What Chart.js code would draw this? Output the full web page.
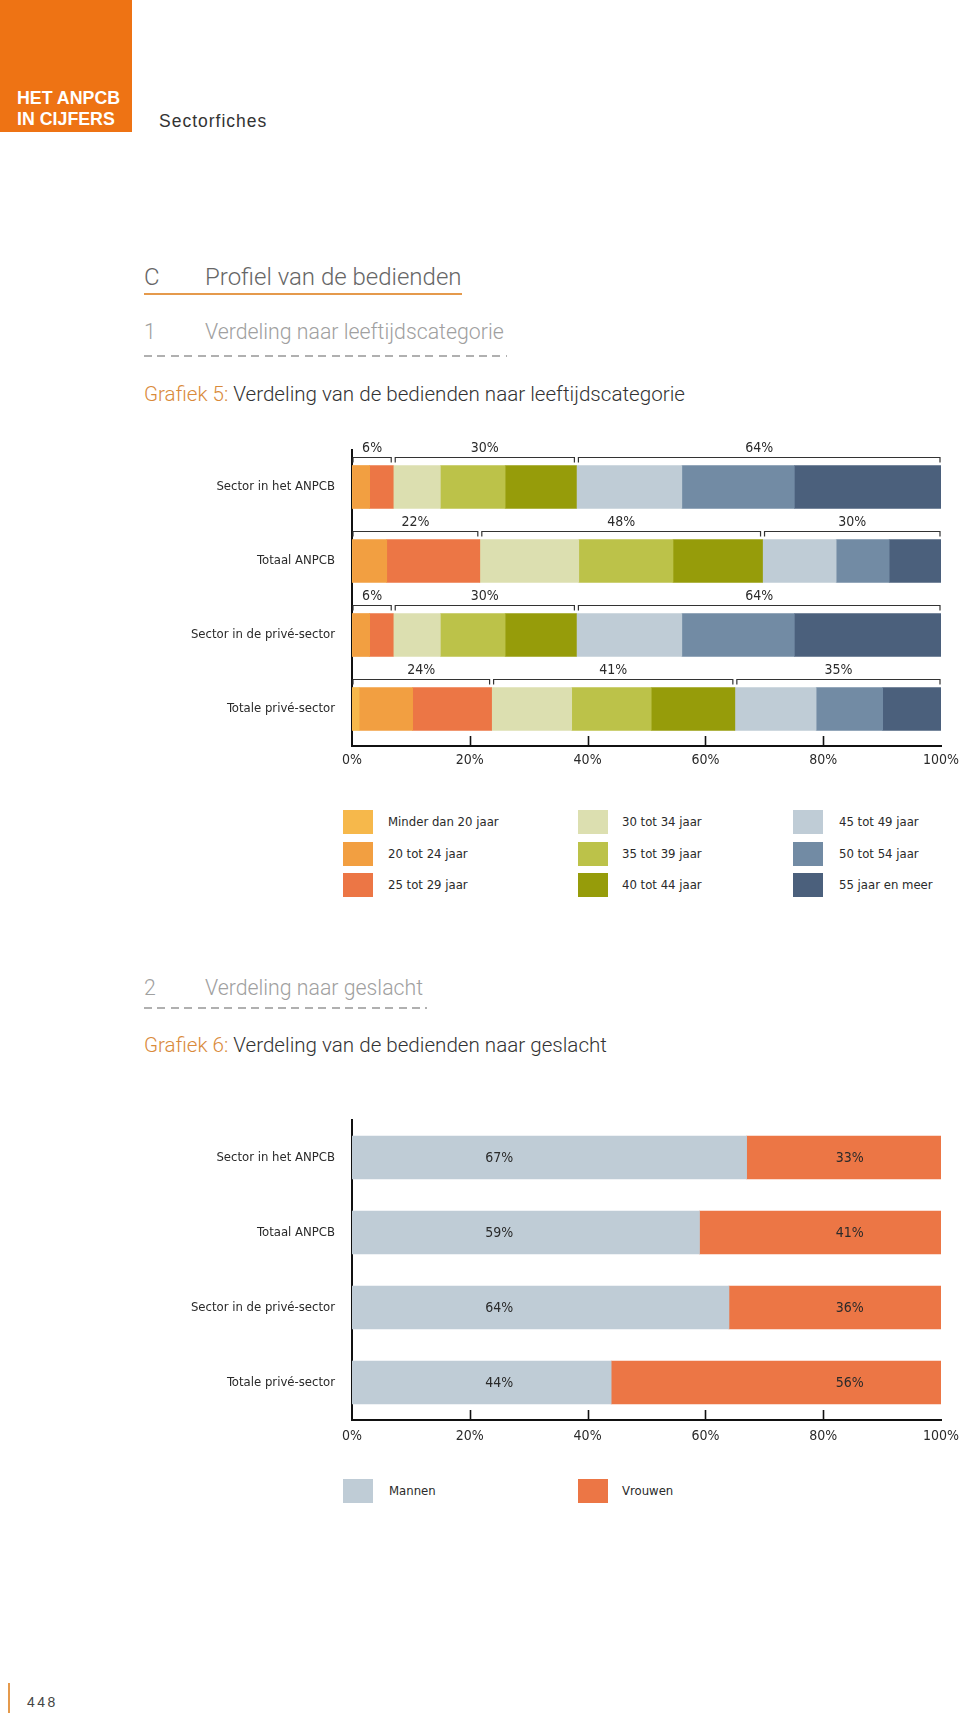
<!DOCTYPE html>
<html>
<head>
<meta charset="utf-8">
<script src="https://cdn.jsdelivr.net/npm/chart.js@4.4.1/dist/chart.umd.min.js"></script>
<style>
  html, body { margin: 0; padding: 0; background: #fff; }
  body { position: relative; width: 960px; height: 1720px; overflow: hidden; font-family: 'Liberation Sans', Arial, sans-serif; }
  .abs { position: absolute; white-space: nowrap; }
  .light { font-family: Roboto, 'Open Sans', 'Liberation Sans', sans-serif; font-weight: 300; }
  .narrow { font-family: 'DejaVu Sans Condensed', 'Liberation Sans Narrow', sans-serif; }
  .sw { position: absolute; width: 30px; height: 24px; }
  .lt { position: absolute; font-size: 13px; color: #2a2a2a; line-height: 16px; }
  .dash { position: absolute; height: 1.5px; background: repeating-linear-gradient(to right, #b0b0b0 0, #b0b0b0 8px, transparent 8px, transparent 13.4px); }
</style>
</head>
<body>
<div class="abs" style="left:0;top:0;width:132px;height:132px;background:#ee7314;"></div>
<div class="abs" style="left:17px;top:88px;color:#fff;font-weight:bold;font-size:17.8px;line-height:21px;">HET ANPCB<br>IN CIJFERS</div>
<div class="abs" style="left:159px;top:111px;color:#333;font-size:17.5px;letter-spacing:1px;">Sectorfiches</div>

<div class="abs light" style="left:144px;top:263px;color:#666;font-size:24px;">C</div>
<div class="abs light" style="left:205px;top:263px;color:#666;font-size:24px;">Profiel van de bedienden</div>
<div class="abs" style="left:144px;top:293px;width:318px;height:2px;background:#e59a4c;"></div>

<div class="abs light" style="left:144px;top:319px;color:#a0a0a0;font-size:21.3px;">1</div>
<div class="abs light" style="left:205px;top:319px;color:#a0a0a0;font-size:21.3px;">Verdeling naar leeftijdscategorie</div>
<div class="dash" style="left:144px;top:355px;width:363px;"></div>

<div class="abs light" style="left:144px;top:382px;font-size:20.6px;color:#333;"><span style="color:#d98a3a;">Grafiek 5:</span> Verdeling van de bedienden naar leeftijdscategorie</div>

<div class="abs" style="left:0;top:400px;width:960px;height:376px;"><canvas id="c1"></canvas></div>

<div id="leg1"></div>

<div class="abs light" style="left:144px;top:975px;color:#a0a0a0;font-size:21.3px;">2</div>
<div class="abs light" style="left:205px;top:975px;color:#a0a0a0;font-size:21.3px;">Verdeling naar geslacht</div>
<div class="dash" style="left:144px;top:1007px;width:283px;"></div>

<div class="abs light" style="left:144px;top:1033px;font-size:20.6px;color:#333;"><span style="color:#d98a3a;">Grafiek 6:</span> Verdeling van de bedienden naar geslacht</div>

<div class="abs" style="left:0;top:1090px;width:960px;height:360px;"><canvas id="c2"></canvas></div>

<div id="leg2"></div>

<div class="abs" style="left:8px;top:1683px;width:2px;height:30px;background:#e59a4c;"></div>
<div class="abs" style="left:27px;top:1694px;font-size:14px;letter-spacing:2.5px;color:#444;">448</div>

<script>
// ---------- DATA ----------
const categories = ["Sector in het ANPCB", "Totaal ANPCB", "Sector in de privé-sector", "Totale privé-sector"];
const ageLabels = ["Minder dan 20 jaar", "20 tot 24 jaar", "25 tot 29 jaar", "30 tot 34 jaar", "35 tot 39 jaar", "40 tot 44 jaar", "45 tot 49 jaar", "50 tot 54 jaar", "55 jaar en meer"];
const ageColors = ["#f6b84b", "#f29f41", "#ec7645", "#dcdfb0", "#bcc249", "#969c0a", "#bfccd6", "#728ba4", "#4b607c"];
const ageUnder20 = [0, 0, 0, 1.2];
const age20_24 = [3.0, 5.9, 3.0, 9.1];
const age25_29 = [4.0, 15.8, 4.0, 13.4];
const age30_34 = [8.0, 16.8, 8.0, 13.6];
const age35_39 = [11.0, 16.0, 11.0, 13.5];
const age40_44 = [12.1, 15.2, 12.1, 14.2];
const age45_49 = [17.9, 12.5, 17.9, 13.8];
const age50_54 = [19.1, 9.0, 19.1, 11.3];
const age55plus = [24.9, 8.8, 24.9, 9.9];
const groupLabels = [["6%", "30%", "64%"], ["22%", "48%", "30%"], ["6%", "30%", "64%"], ["24%", "41%", "35%"]];
const groupRanges = [[0, 3], [3, 6], [6, 9]];
const genderLabels = ["Mannen", "Vrouwen"];
const genderColors = ["#bfccd6", "#ec7645"];
const mannen = [67, 59, 64, 44];
const vrouwen = [33, 41, 36, 56];
const tickLabels = ["0%", "20%", "40%", "60%", "80%", "100%"];
const tickValues = [0, 20, 40, 60, 80, 100];

// ---------- STYLE ----------
const NARROW = "'DejaVu Sans Condensed', 'Liberation Sans Narrow', sans-serif";
const TEXT = "#2a2a2a";
const BAR_T = 43;

const ageSeries = [ageUnder20, age20_24, age25_29, age30_34, age35_39, age40_44, age45_49, age50_54, age55plus];

function xScaleOpts(tickPad) {
  return {
    type: 'linear', stacked: true, min: 0, max: 100,
    afterBuildTicks: (s) => { s.ticks = tickValues.map(v => ({ value: v })); },
    ticks: {
      callback: (v) => tickLabels[tickValues.indexOf(v)],
      font: { family: NARROW, size: 14 }, color: TEXT, padding: tickPad, maxRotation: 0, autoSkip: false
    },
    grid: { display: false, drawTicks: false },
    border: { display: true, color: '#111', width: 2 },
    afterFit: (s) => { s.height = 30; s.paddingLeft = 0; s.paddingRight = 0; }
  };
}
function yScaleOpts() {
  return {
    type: 'category', stacked: true,
    ticks: { font: { family: NARROW, size: 13 }, color: TEXT, padding: 17 },
    grid: { display: false, drawTicks: false },
    border: { display: true, color: '#111', width: 2 },
    afterFit: (s) => { s.width = 352; s.paddingTop = 0; s.paddingBottom = 0; }
  };
}

const innerTicks = {
  id: 'innerTicks',
  afterDraw(chart) {
    const { ctx, chartArea } = chart;
    const xs = chart.scales.x;
    ctx.save();
    ctx.strokeStyle = '#111';
    ctx.lineWidth = 1.6;
    [20, 40, 60, 80].forEach(v => {
      const x = Math.round(xs.getPixelForValue(v)) + 0.5;
      ctx.beginPath();
      ctx.moveTo(x, chartArea.bottom);
      ctx.lineTo(x, chartArea.bottom - 10);
      ctx.stroke();
    });
    ctx.restore();
  }
};

const brackets = {
  id: 'brackets',
  afterDatasetsDraw(chart) {
    const { ctx } = chart;
    const xs = chart.scales.x, ys = chart.scales.y;
    ctx.save();
    ctx.strokeStyle = '#333';
    ctx.lineWidth = 1.2;
    ctx.fillStyle = TEXT;
    ctx.font = "14px " + NARROW;
    ctx.textAlign = 'center';
    ctx.textBaseline = 'middle';
    categories.forEach((cat, i) => {
      const top = ys.getPixelForValue(i) - BAR_T / 2;
      const ly = Math.round(top - 9) + 0.5;
      groupRanges.forEach((r, g) => {
        let s0 = 0;
        for (let k = 0; k < r[0]; k++) s0 += ageSeries[k][i];
        let s1 = s0;
        for (let k = r[0]; k < r[1]; k++) s1 += ageSeries[k][i];
        const x0 = xs.getPixelForValue(s0) + (g === 0 ? 1 : 2);
        const x1 = xs.getPixelForValue(s1) - (g === groupRanges.length - 1 ? 1 : 2);
        ctx.beginPath();
        ctx.moveTo(x0, ly + 5);
        ctx.lineTo(x0, ly);
        ctx.lineTo(x1, ly);
        ctx.lineTo(x1, ly + 5);
        ctx.stroke();
        ctx.fillText(groupLabels[i][g], (x0 + x1) / 2, top - 17);
      });
    });
    ctx.restore();
  }
};

new Chart(document.getElementById('c1'), {
  type: 'bar',
  data: {
    labels: categories,
    datasets: ageSeries.map((d, k) => ({
      label: ageLabels[k], data: d, backgroundColor: ageColors[k],
      borderWidth: 0, barThickness: BAR_T
    }))
  },
  options: {
    indexAxis: 'y', responsive: true, maintainAspectRatio: false, animation: false,
    layout: { padding: { top: 50, right: 19, bottom: 0, left: 0 } },
    plugins: { legend: { display: false }, tooltip: { enabled: false } },
    scales: { x: xScaleOpts(6), y: yScaleOpts() }
  },
  plugins: [brackets, innerTicks]
});

const genderSeries = [mannen, vrouwen];
const LABEL_POS = [25, 84.5];
const barLabels = {
  id: 'barLabels',
  afterDatasetsDraw(chart) {
    const { ctx } = chart;
    const xs = chart.scales.x, ys = chart.scales.y;
    ctx.save();
    ctx.fillStyle = TEXT;
    ctx.font = "14px " + NARROW;
    ctx.textAlign = 'center';
    ctx.textBaseline = 'middle';
    categories.forEach((c, i) => {
      genderSeries.forEach((s, k) => {
        ctx.fillText(s[i] + '%', xs.getPixelForValue(LABEL_POS[k]), ys.getPixelForValue(i) + 1);
      });
    });
    ctx.restore();
  }
};

new Chart(document.getElementById('c2'), {
  type: 'bar',
  data: {
    labels: categories,
    datasets: genderSeries.map((d, k) => ({
      label: genderLabels[k], data: d, backgroundColor: genderColors[k],
      borderWidth: 0, barThickness: BAR_T
    }))
  },
  options: {
    indexAxis: 'y', responsive: true, maintainAspectRatio: false, animation: false,
    layout: { padding: { top: 30, right: 19, bottom: 0, left: 0 } },
    plugins: { legend: { display: false }, tooltip: { enabled: false } },
    scales: { x: xScaleOpts(8), y: yScaleOpts() }
  },
  plugins: [barLabels, innerTicks]
});

// ---------- HTML legends ----------
function buildLegend(el, labels, colors, colX, textX, rowY, perCol) {
  let html = '';
  labels.forEach((lab, i) => {
    const col = Math.floor(i / perCol), row = i % perCol;
    const y = rowY[row];
    html += '<div class="sw" style="left:' + colX[col] + 'px;top:' + y + 'px;background:' + colors[i] + ';"></div>';
    html += '<div class="lt narrow" style="left:' + textX[col] + 'px;top:' + (y + 4) + 'px;">' + lab + '</div>';
  });
  el.innerHTML = html;
}
buildLegend(document.getElementById('leg1'), ageLabels, ageColors, [343, 578, 793], [388, 622, 839], [810, 842, 873], 3);
buildLegend(document.getElementById('leg2'), genderLabels, genderColors, [343, 578], [389, 622], [1479], 1);
</script>
</body>
</html>
